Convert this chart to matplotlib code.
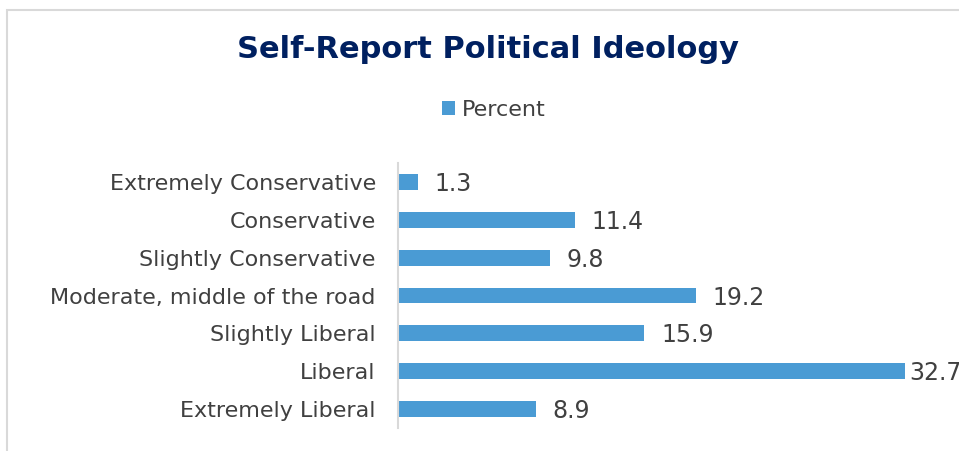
import matplotlib.pyplot as plt
from matplotlib.patches import Rectangle

categories = ["Extremely Liberal", "Liberal", "Slightly Liberal",
              "Moderate, middle of the road", "Slightly Conservative",
              "Conservative", "Extremely Conservative"]
percent = [8.9, 32.7, 15.9, 19.2, 9.8, 11.4, 1.3]

bar_color = "#4A9BD4"
text_color = "#404040"

fig = plt.figure(figsize=(9.59, 4.51), dpi=100)
ax = fig.add_axes([398 / 959, 23 / 451, 561 / 959, 265 / 451])

y = range(len(categories))
bars = ax.barh(y, percent, height=0.42, color=bar_color, label="Percent")
ax.set_yticks(list(y))
ax.set_yticklabels(categories, fontsize=16, color=text_color)
ax.tick_params(axis="y", length=0, pad=16)
ax.set_xlim(0, 36.2)
ax.set_ylim(-0.5, 6.5)
ax.set_xticks([])
for s in ["top", "right", "bottom"]:
    ax.spines[s].set_visible(False)
ax.spines["left"].set_color("#D9D9D9")
ax.spines["left"].set_linewidth(1.5)

for b, v in zip(bars, percent):
    # Excel pulls the longest label in against the chart edge
    dx = 3 if v == max(percent) else 12
    ax.annotate(f"{v}", (v, b.get_y() + b.get_height() / 2),
                xytext=(dx, -1.5), textcoords="offset points",
                ha="left", va="center", fontsize=17, color=text_color,
                annotation_clip=False)

fig.text(488 / 959, 1 - 50 / 451, "Self-Report Political Ideology",
         ha="center", va="center", fontsize=22, fontweight="bold",
         color="#002060")

fig.legend(loc="center", bbox_to_anchor=(494 / 959, 1 - 110 / 451),
           frameon=False, fontsize=16, handlelength=0.6, handleheight=0.6,
           handletextpad=0.3, labelcolor=text_color)

fig.patches.append(Rectangle((7 / 959, -0.1), 1.2, 1 - 10 / 451 + 0.1,
                             transform=fig.transFigure, fill=False,
                             edgecolor="#D9D9D9", linewidth=1.5))

fig.savefig("out.png", dpi=100)
